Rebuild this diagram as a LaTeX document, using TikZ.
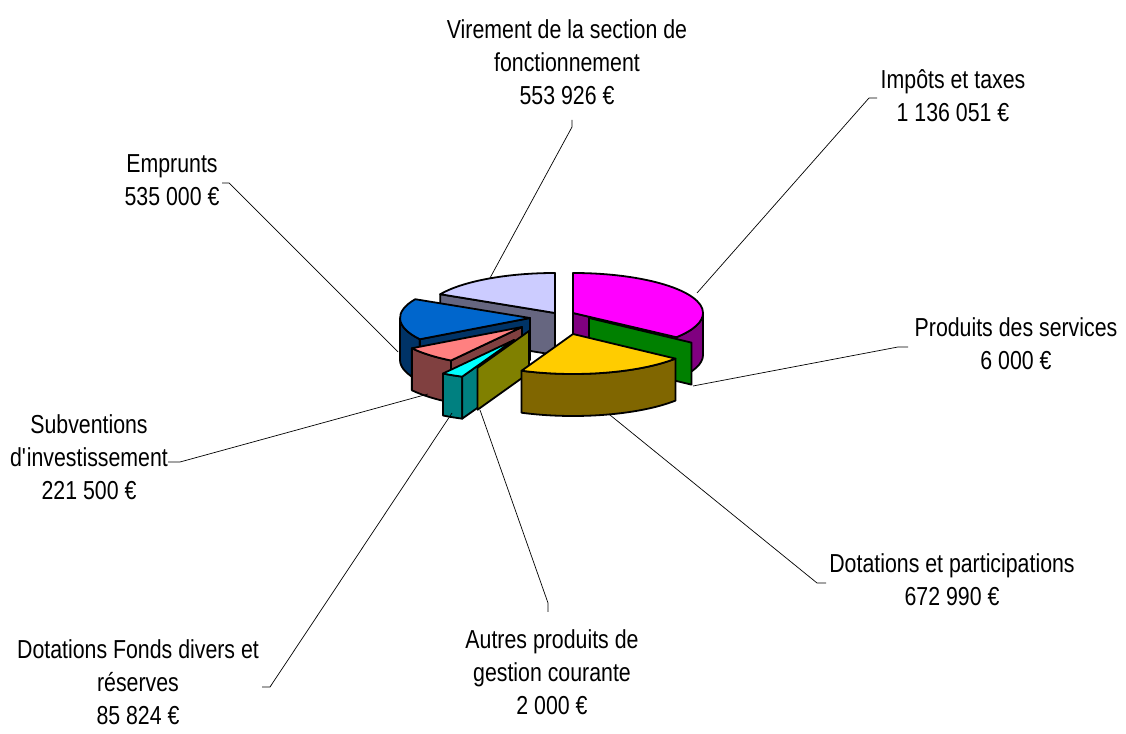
\documentclass[tikz,border=0pt]{standalone}
\usepackage{fontspec}
\setmainfont{Liberation Sans}[FakeStretch=0.82]
\usetikzlibrary{calc}
\definecolor{virtop}{HTML}{CCCCFF}\definecolor{virside}{HTML}{666680}
\definecolor{imptop}{HTML}{FF00FF}\definecolor{impside}{HTML}{800080}
\definecolor{prodside}{HTML}{008000}
\definecolor{dottop}{HTML}{FFCC00}\definecolor{dotside}{HTML}{806600}
\definecolor{autside}{HTML}{808000}
\definecolor{fontop}{HTML}{00FFFF}\definecolor{fonside}{HTML}{008080}
\definecolor{subtop}{HTML}{FF8080}\definecolor{subside}{HTML}{804040}
\definecolor{emptop}{HTML}{0066CC}\definecolor{empside}{HTML}{003366}
\newcommand{\pieRx}{130pt}
\newcommand{\pieRy}{40pt}
\newcommand{\pieE}{130pt and 40pt}
\tikzset{slice/.style={draw=black,line width=1.8pt,line join=round},
         leader/.style={draw=black,line width=0.7pt},
         lbl/.style={align=center,inner sep=0pt,anchor=north,font=\fontsize{26}{33}\selectfont},
        }

\begin{document}
\begin{tikzpicture}[x=1pt,y=1pt]
    \useasboundingbox[fill=white](0,0)rectangle(1126,733);
    % apex of each slice
    \coordinate(vir)at(555,420);
    \coordinate(imp)at(573,420);
    \coordinate(prod)at(589,415);
    \coordinate(dot)at(573,399);
    \coordinate(aut)at(529,402);
    \coordinate(fon)at(514,393);
    \coordinate(sub)at(522,406);
    \coordinate(emp)at(530,415);

    % Virement
    \draw[slice,fill=virside](vir)--($(vir)+(152:\pieE)$)--++(0,-42)--($(vir)+(0,-42)$)--cycle;
    \draw[slice,fill=virtop](vir)--($(vir)+(152:\pieE)$)arc[start angle=152,end angle=90,x radius=\pieRx,y radius=\pieRy]--cycle;
    % Impots
    \draw[slice,fill=impside]($(imp)+(0:\pieE)$)arc[start angle=0,end angle=-37.3,x radius=\pieRx,y radius=\pieRy]--++(0,-42)arc[start angle=-37.3,end angle=0,x radius=\pieRx,y radius=\pieRy]--cycle;
    \draw[slice,fill=impside](imp)--($(imp)+(-37.3:\pieE)$)--++(0,-42)--($(imp)+(0,-42)$)--cycle;
    \draw[slice,fill=imptop](imp)--($(imp)+(90:\pieE)$)arc[start angle=90,end angle=-37.3,x radius=\pieRx,y radius=\pieRy]--cycle;
    % Emprunts
    \draw[slice,fill=empside]($(emp)+(-147.9:\pieE)$)arc[start angle=-147.9,end angle=-180,x radius=\pieRx,y radius=\pieRy]--++(0,-42)arc[start angle=-180,end angle=-147.9,x radius=\pieRx,y radius=\pieRy]--cycle;
    \draw[slice,fill=empside](emp)--($(emp)+(-147.9:\pieE)$)--++(0,-42)--($(emp)+(0,-42)$)--cycle;
    \draw[slice,fill=emptop](emp)--($(emp)+(-147.9:\pieE)$)arc[start angle=-147.9,end angle=-208,x radius=\pieRx,y radius=\pieRy]--cycle;
    % Subventions
    \draw[slice,fill=subside]($(sub)+(-123.1:\pieE)$)arc[start angle=-123.1,end angle=-147.9,x radius=\pieRx,y radius=\pieRy]--++(0,-42)arc[start angle=-147.9,end angle=-123.1,x radius=\pieRx,y radius=\pieRy]--cycle;
    \draw[slice,fill=subside](sub)--($(sub)+(-123.1:\pieE)$)--++(0,-42)--($(sub)+(0,-42)$)--cycle;
    \draw[slice,fill=subtop](sub)--($(sub)+(-123.1:\pieE)$)arc[start angle=-123.1,end angle=-147.9,x radius=\pieRx,y radius=\pieRy]--cycle;
    % Produits des services
    \draw[slice,fill=prodside](prod)--($(prod)+(-38:\pieE)$)--++(0,-42)--($(prod)+(0,-42)$)--cycle;
    % Fonds divers
    \draw[slice,fill=fonside]($(fon)+(-113.5:\pieE)$)arc[start angle=-113.5,end angle=-123.1,x radius=\pieRx,y radius=\pieRy]--++(0,-42)arc[start angle=-123.1,end angle=-113.5,x radius=\pieRx,y radius=\pieRy]--cycle;
    \draw[slice,fill=fonside](fon)--($(fon)+(-113.5:\pieE)$)--++(0,-42)--($(fon)+(0,-42)$)--cycle;
    \draw[slice,fill=fontop](fon)--($(fon)+(-113.5:\pieE)$)arc[start angle=-113.5,end angle=-123.1,x radius=\pieRx,y radius=\pieRy]--cycle;
    % Autres produits
    \draw[slice,fill=autside](aut)--($(aut)+(-113.3:\pieE)$)--++(0,-42)--($(aut)+(0,-42)$)--cycle;
    % Dotations
    \draw[slice,fill=dotside]($(dot)+(-38:\pieE)$)arc[start angle=-38,end angle=-113.3,x radius=\pieRx,y radius=\pieRy]--++(0,-42)arc[start angle=-113.3,end angle=-38,x radius=\pieRx,y radius=\pieRy]--cycle;
    \draw[slice,fill=dottop](dot)--($(dot)+(-38:\pieE)$)arc[start angle=-38,end angle=-113.3,x radius=\pieRx,y radius=\pieRy]--cycle;

    % labels
    \node[lbl](virL)at(567,714){Virement de la section de\\fonctionnement\\553 926 €};
    \node[lbl](impL)at(953,664){Impôts et taxes\\1 136 051 €};
    \node[lbl](empL)at(172,579){Emprunts\\535 000 €};
    \node[lbl](prodL)at(1016,416){Produits des services\\6 000 €};
    \node[lbl](subL)at(89,319){Subventions\\d\textquotesingle investissement\\221 500 €};
    \node[lbl](dotL)at(952,180){Dotations et participations\\672 990 €};
    \node[lbl](fonL)at(138,94){Dotations Fonds divers et\\réserves\\85 824 €};
    \node[lbl](autL)at(552,104){Autres produits de\\gestion courante\\2 000 €};

    % leader lines
    \coordinate(virA)at(572,613);\coordinate(virB)at(572,606);\coordinate(virP)at(490,455);
    \coordinate(impA)at(877,635);\coordinate(impB)at(869,635);\coordinate(impP)at(697,440);
    \coordinate(empA)at(222,550);\coordinate(empB)at(229,550);\coordinate(empP)at(398,381);
    \coordinate(prodA)at(908,386);\coordinate(prodB)at(898,386);\coordinate(prodP)at(693,347);
    \coordinate(subA)at(168,271);\coordinate(subB)at(180,271);\coordinate(subP)at(428,339);
    \coordinate(dotA)at(826,150);\coordinate(dotB)at(817,150);\coordinate(dotP)at(610,318);
    \coordinate(fonA)at(262,46);\coordinate(fonB)at(270,46);\coordinate(fonP)at(452,320);
    \coordinate(autA)at(548,121);\coordinate(autB)at(548,130);\coordinate(autP)at(480,323);
    \draw[leader](virA)--(virB)--(virP);
    \draw[leader](impA)--(impB)--(impP);
    \draw[leader](empA)--(empB)--(empP);
    \draw[leader](prodA)--(prodB)--(prodP);
    \draw[leader](subA)--(subB)--(subP);
    \draw[leader](dotA)--(dotB)--(dotP);
    \draw[leader](fonA)--(fonB)--(fonP);
    \draw[leader](autA)--(autB)--(autP);
\end{tikzpicture}
\end{document}
